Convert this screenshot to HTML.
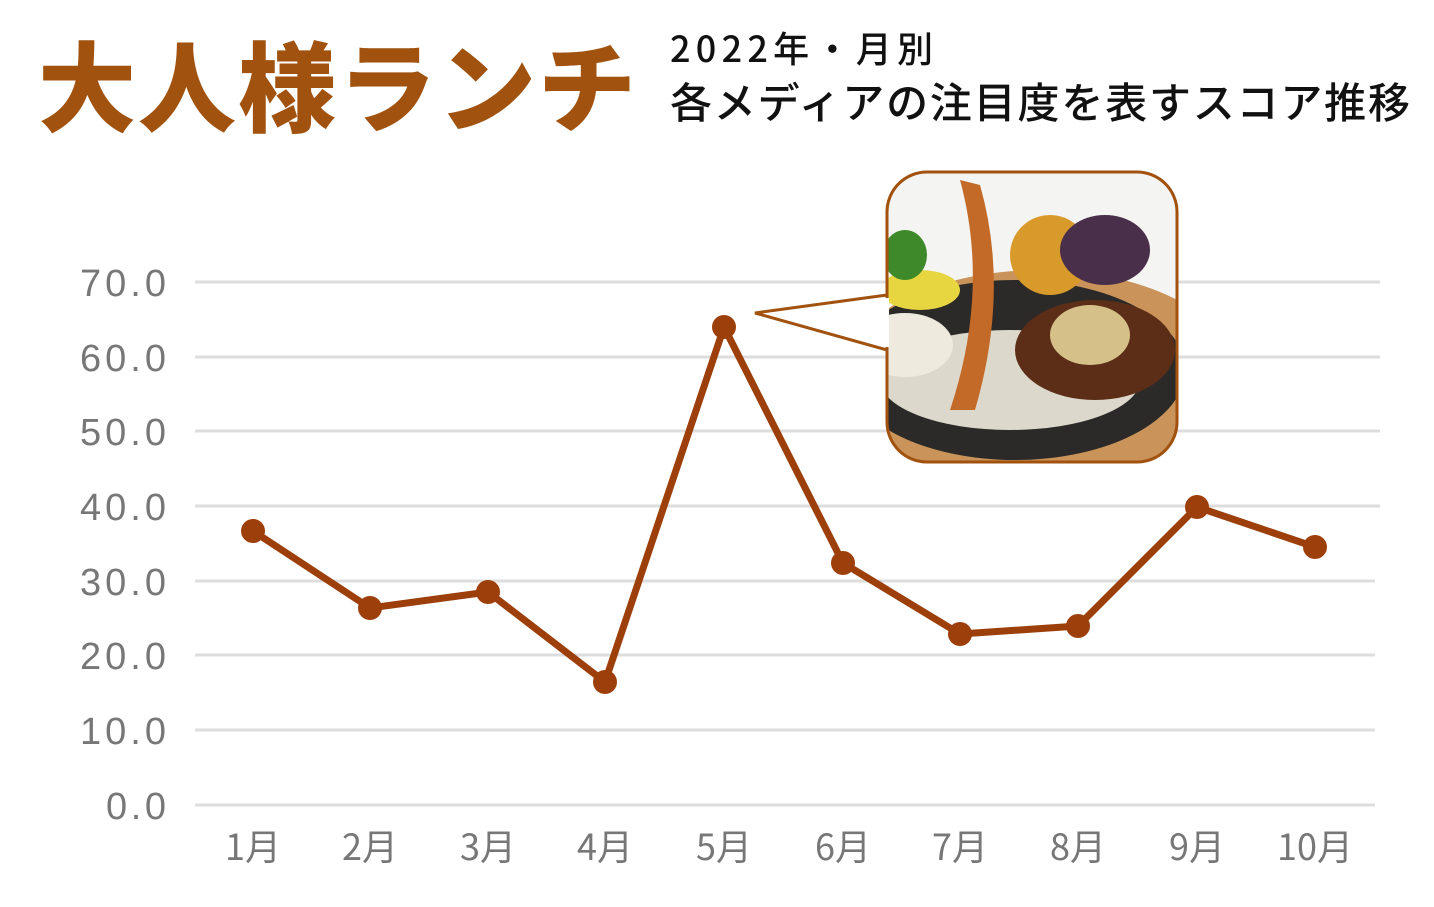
<!DOCTYPE html>
<html><head><meta charset="utf-8"><style>
body{margin:0;width:1434px;height:902px;background:#fff;overflow:hidden;font-family:"Liberation Sans","Noto Sans CJK JP",sans-serif;}
</style></head><body>
<svg width="1434" height="902" xmlns="http://www.w3.org/2000/svg" font-family="Liberation Sans, Noto Sans CJK JP, sans-serif">
<text x="38" y="124" font-size="98" font-weight="900" fill="#a2520f" font-family="Noto Sans CJK JP, sans-serif" textLength="598">大人様ランチ</text>
<text x="670" y="62" font-size="36" font-weight="500" fill="#111" font-family="Noto Sans CJK JP, sans-serif" textLength="263">2022年・月別</text>
<text x="670" y="118" font-size="42" font-weight="500" fill="#111" font-family="Noto Sans CJK JP, sans-serif" textLength="740">各メディアの注目度を表すスコア推移</text>
<g stroke="#ddd" stroke-width="3">
<line x1="195" x2="1380" y1="282" y2="282"/><line x1="195" x2="1380" y1="357" y2="357"/><line x1="195" x2="1380" y1="431" y2="431"/><line x1="195" x2="1380" y1="506" y2="506"/><line x1="195" x2="1375" y1="581" y2="581"/><line x1="195" x2="1375" y1="655" y2="655"/><line x1="195" x2="1375" y1="730" y2="730"/><line x1="195" x2="1375" y1="805" y2="805"/>
</g>
<g font-size="38" fill="#777" text-anchor="end">
<text x="166" y="296" textLength="86">70.0</text><text x="166" y="371" textLength="86">60.0</text><text x="166" y="445" textLength="86">50.0</text><text x="166" y="520" textLength="86">40.0</text><text x="166" y="595" textLength="86">30.0</text><text x="166" y="669" textLength="86">20.0</text><text x="166" y="744" textLength="86">10.0</text><text x="166" y="819" textLength="60">0.0</text>
</g>
<g font-size="36" fill="#777" text-anchor="middle" font-family="Noto Sans CJK JP, sans-serif">
<text x="253" y="860">1月</text><text x="370" y="860">2月</text><text x="488" y="860">3月</text><text x="605" y="860">4月</text><text x="724" y="860">5月</text><text x="843" y="860">6月</text><text x="960" y="860">7月</text><text x="1078" y="860">8月</text><text x="1197" y="860">9月</text><text x="1315" y="860">10月</text>
</g>
<polyline fill="none" stroke="#9c3f0a" stroke-width="7" stroke-linejoin="round" points="253,531 370,608 488,592 605,682 724,327 843,563 960,634 1078,626 1197,507 1315,547"/>
<g fill="#9c3f0a">
<circle cx="253" cy="531" r="12"/><circle cx="370" cy="608" r="12"/><circle cx="488" cy="592" r="12"/><circle cx="605" cy="682" r="12"/><circle cx="724" cy="327" r="12"/><circle cx="843" cy="563" r="12"/><circle cx="960" cy="634" r="12"/><circle cx="1078" cy="626" r="12"/><circle cx="1197" cy="507" r="12"/><circle cx="1315" cy="547" r="12"/>
</g>
<defs><clipPath id="c"><rect x="887" y="172" width="290" height="290" rx="40"/></clipPath></defs>
<path d="M755,313 L887,295 L887,350 Z" fill="#fff" stroke="#a2520f" stroke-width="3"/>
<g clip-path="url(#c)">
<rect x="887" y="172" width="290" height="290" fill="#f4f4f2"/>
<ellipse cx="1040" cy="380" rx="200" ry="110" fill="#c9935a"/>
<ellipse cx="1015" cy="370" rx="170" ry="90" fill="#2b2a28"/>
<ellipse cx="1010" cy="380" rx="130" ry="50" fill="#ddd8cc"/>
<ellipse cx="905" cy="345" rx="48" ry="32" fill="#eeeadd"/>
<ellipse cx="920" cy="290" rx="40" ry="20" fill="#e8d640"/>
<ellipse cx="905" cy="255" rx="22" ry="25" fill="#3e8a2a"/>
<ellipse cx="1095" cy="350" rx="80" ry="50" fill="#5c2e18"/>
<ellipse cx="1090" cy="335" rx="40" ry="30" fill="#d6c089"/>
<ellipse cx="1050" cy="255" rx="40" ry="40" fill="#d99a2c"/>
<ellipse cx="1105" cy="250" rx="45" ry="35" fill="#4a2f4a"/>
<path d="M960,180 Q990,290 950,410 L975,410 Q1010,290 980,185 Z" fill="#c46a28"/>
</g>
<rect x="887" y="172" width="290" height="290" rx="40" fill="none" stroke="#a2520f" stroke-width="3"/>
<line x1="887" y1="298" x2="887" y2="347" stroke="#fff" stroke-width="4"/>
</svg>
</body></html>
